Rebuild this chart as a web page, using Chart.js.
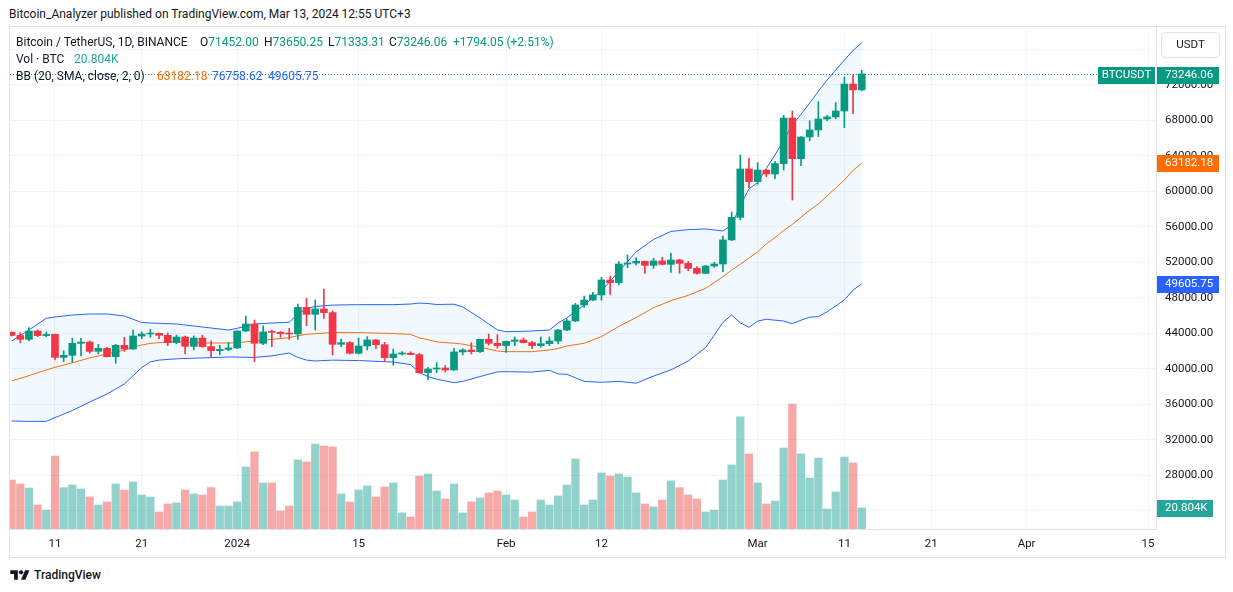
<!DOCTYPE html>
<html>
<head>
<meta charset="utf-8">
<script src="https://cdn.jsdelivr.net/npm/chart.js@4.4.0/dist/chart.umd.min.js"></script>
<style>
  body { margin:0; width:1233px; height:592px; background:#fff; position:relative; overflow:hidden;
         font-family: Roboto, "Noto Sans", sans-serif; color:#131722; }
  #pub { position:absolute; left:9px; top:7px; font-size:12px; line-height:14px; white-space:nowrap; }
  #frame { position:absolute; left:9px; top:26px; width:1215px; height:530px; border:1px solid #e0e3eb; }
  #c { position:absolute; left:0; top:0; }
  .lg { position:absolute; font-size:12px; line-height:14px; white-space:nowrap; }
  .up { color:#089981; }
  .vol { color:#26a69a; }
  .org { color:#ff6d00; }
  .blu { color:#2962ff; }
  #logo { position:absolute; left:10px; top:568px; display:flex; align-items:center; gap:4px;
          font-size:12px; font-weight:500; }
</style>
</head>
<body>
<div id="pub">Bitcoin_Analyzer published on TradingView.com, Mar 13, 2024 12:55 UTC+3</div>
<div id="frame">
  <canvas id="c" width="1215" height="530"></canvas>
  <div class="lg" style="left:6px;top:8px">Bitcoin / TetherUS, 1D, BINANCE</div>
  <div class="lg" style="left:190px;top:8px">O<span class="up">71452.00</span></div>
  <div class="lg" style="left:254px;top:8px">H<span class="up">73650.25</span></div>
  <div class="lg" style="left:318px;top:8px">L<span class="up">71333.31</span></div>
  <div class="lg" style="left:379px;top:8px">C<span class="up">73246.06</span></div>
  <div class="lg up" style="left:443px;top:8px">+1794.05 (+2.51%)</div>
  <div class="lg" style="left:6px;top:25px">Vol · BTC</div>
  <div class="lg vol" style="left:64px;top:25px">20.804K</div>
  <div class="lg" style="left:6px;top:42px">BB (20, SMA, close, 2, 0)</div>
  <div class="lg org" style="left:147px;top:42px">63182.18</div>
  <div class="lg blu" style="left:202px;top:42px">76758.62</div>
  <div class="lg blu" style="left:258px;top:42px">49605.75</div>
</div>
<div id="logo">
  <svg width="20" height="14" viewBox="0 0 36 26"><path d="M14 22H7V11H0V4h14v18zM28 22h-8l7.5-18h8z" fill="#131722"/><circle cx="20" cy="8" r="4" fill="#131722"/></svg>
  <span>TradingView</span>
</div>
<script>
// daily candles, Dec 6 2023 (day 0) .. Mar 13 2024 (day 98)
const opens = [44130, 43780, 43340, 44280, 43760, 43900, 41310, 41540, 42890, 43040,
  41990, 42330, 41390, 42670, 42250, 43720, 43940, 44020, 43790, 42970,
  43600, 42550, 43490, 42520, 42070, 42200, 42370, 44280, 45070, 42890,
  44170, 44140, 43980, 43940, 46950, 46160, 46760, 46350, 42780, 42970,
  41770, 42590, 43270, 42740, 41280, 41690, 41770, 41620, 39590, 40000,
  40110, 39890, 41920, 42140, 41950, 43340, 42890, 42630, 43120, 43270,
  42970, 42630, 42850, 43150, 44390, 45410, 47210, 47770, 48340, 50030,
  49730, 51830, 51940, 52130, 51680, 52170, 51790, 52280, 51900, 51340,
  50780, 51600, 51830, 54540, 57090, 62540, 61110, 62420, 61970, 63140,
  68280, 63700, 66140, 66930, 68170, 68400, 69070, 72110, 71452];
const highs = [44200, 44090, 44660, 44390, 44170, 43920, 42070, 43460, 43460, 43160,
  42780, 42440, 42780, 43570, 44390, 44170, 44470, 44060, 44060, 43830,
  43720, 43720, 43830, 43160, 42670, 42970, 44300, 45970, 45520, 44850,
  44390, 44210, 44580, 47320, 47960, 47770, 49010, 46540, 43380, 43080,
  43490, 43640, 43300, 43000, 42250, 41950, 41950, 41770, 40190, 40710,
  40380, 42330, 42290, 42970, 43380, 43940, 43870, 43150, 43610, 43490,
  43120, 43610, 43610, 44470, 45630, 47400, 48220, 48640, 50330, 50480,
  52090, 52840, 52540, 52170, 52470, 52580, 53030, 52360, 52130, 51530,
  51680, 52020, 54990, 57690, 64110, 63740, 63250, 62470, 63360, 68580,
  69070, 66200, 67980, 70120, 68580, 70010, 72900, 73170, 73650.25];
const lows = [43700, 42970, 43160, 43640, 43640, 41010, 40830, 40750, 41460, 41770,
  41690, 41350, 40640, 41990, 42200, 43420, 43570, 43420, 42630, 42850,
  41690, 42140, 42440, 41390, 41620, 42070, 42290, 44200, 40830, 42740,
  42520, 43570, 43340, 43340, 44880, 44390, 45710, 41580, 42520, 41690,
  41690, 42140, 42290, 40830, 40410, 41580, 41600, 39510, 38760, 39590,
  39660, 39850, 41580, 41690, 41880, 42700, 42330, 41880, 42630, 42930,
  42290, 42440, 42630, 42820, 44320, 45330, 46950, 47700, 47770, 48410,
  49460, 51420, 51720, 50780, 51340, 51750, 50890, 50780, 51080, 50670,
  50750, 51450, 50970, 54460, 56790, 60430, 60810, 61670, 61450, 62420,
  59040, 62910, 65690, 66180, 67980, 68210, 67190, 68770, 71333.31];
const closes = [43780, 43340, 44280, 43760, 43900, 41310, 41540, 42890, 43040, 41990,
  42330, 41390, 42670, 42250, 43720, 43940, 44020, 43790, 42970, 43600,
  42550, 43490, 42520, 42070, 42200, 42370, 44280, 45070, 42890, 44170,
  44140, 43980, 43940, 46950, 46160, 46760, 46350, 42780, 42970, 41770,
  42590, 43270, 42740, 41280, 41690, 41770, 41620, 39590, 40000, 40110,
  39890, 41920, 42140, 41950, 43340, 42890, 42630, 43120, 43270, 42970,
  42630, 42850, 43150, 44390, 45410, 47210, 47770, 48340, 50030, 49730,
  51830, 51940, 52130, 51680, 52170, 51790, 52280, 51900, 51340, 50780,
  51600, 51830, 54540, 57090, 62540, 61110, 62420, 61970, 63140, 68280,
  63700, 66140, 66930, 68170, 68400, 69070, 72110, 71452.01, 73246.06];
// volume in thousands of BTC
const volumes = [48.5, 44.6, 40.6, 23.8, 18.8, 72.3, 41.0, 43.6, 39.6, 31.7,
  23.8, 26.8, 44.6, 38.6, 46.6, 33.7, 31.7, 16.8, 24.8, 25.8,
  38.6, 34.7, 33.7, 41.0, 22.8, 22.8, 26.8, 61.4, 76.3, 45.6,
  45.6, 17.8, 22.8, 68.4, 66.4, 84.2, 82.2, 81.2, 34.7, 26.8,
  38.6, 42.6, 31.7, 41.6, 45.6, 15.9, 11.9, 52.5, 54.5, 37.6,
  29.7, 44.6, 15.9, 26.8, 30.7, 35.7, 37.6, 33.7, 28.7, 11.9,
  16.8, 28.7, 23.8, 32.7, 43.6, 69.3, 23.8, 28.7, 55.5, 52.5,
  54.5, 51.5, 35.7, 24.8, 21.8, 28.7, 47.6, 41.0, 33.7, 29.7,
  16.8, 18.8, 48.5, 63.4, 111.0, 74.3, 45.6, 24.8, 27.7, 80.2,
  123.8, 74.3, 50.5, 70.3, 19.8, 36.7, 71.3, 65.4, 20.804];

// Bollinger bands at these days
const bbDays = [0, 2, 4, 5, 7, 9, 11, 13, 15, 16, 17, 19, 22, 25, 26, 28, 30, 32, 33, 34,
  35, 37, 40, 44, 46, 47, 48, 49, 51, 52, 54, 56, 57, 60, 62, 63, 64, 66, 68, 70,
  72, 74, 76, 78, 80, 82, 83, 84, 85, 86, 87, 88, 89, 90, 91, 92, 93, 94, 95, 96, 97, 98];
const bbUpper = [43150, 44400, 45710, 45860, 46080, 46200, 46200, 45970, 45240, 45180,
  45150, 45070, 44730, 44390, 44580, 45070, 45180, 45260, 46200, 46800,
  47050, 47200, 47250, 47250, 47320, 47430, 47380, 47270, 47300, 47000,
  45750, 44390, 44200, 44280, 44390, 45180, 45750, 47200, 48800, 51000,
  53200, 54600, 55500, 55700, 55780, 55550, 56220, 58400, 60300, 61000,
  62600, 64100, 65800, 67500, 68700, 69970, 71300, 72560, 73700, 74820, 75900, 76758.62];
const bbBasis = [38650, 39250, 39890, 40190, 40700, 41240, 41690, 42140, 42700, 42890,
  42970, 43080, 42930, 42930, 42960, 43150, 43340, 43530, 43750, 43900,
  43980, 44100, 44100, 44000, 43900, 43500, 43300, 43050, 42900, 42800,
  42450, 42030, 41950, 41950, 42140, 42310, 42590, 42900, 43650, 44800,
  45800, 46900, 47700, 48300, 49090, 50400, 51150, 51800, 52500, 53200,
  54100, 54800, 55600, 56300, 57100, 57900, 58600, 59500, 60400, 61300, 62390, 63182.18];
const bbLower = [34140, 34100, 34100, 34520, 35320, 36280, 37180, 38310, 40160, 40800,
  41000, 41150, 41250, 41350, 41340, 41300, 41480, 41800, 41300, 41000,
  40900, 41000, 40950, 40780, 40500, 39590, 39150, 38850, 38450, 38600,
  39150, 39670, 39700, 39650, 39850, 39440, 39400, 38600, 38500, 38600,
  38400, 39200, 39900, 40900, 42400, 45250, 46080, 45200, 44700, 45400,
  45600, 45500, 45400, 45100, 45500, 45830, 45900, 46440, 47100, 47780, 48880, 49605.75];

const tickDays = [5, 15, 26, 40, 57, 68, 86, 96, 106, 117, 131];
const tickLabels = ['11', '21', '2024', '15', 'Feb', '12', 'Mar', '11', '21', 'Apr', '15'];
const priceTicks = [24000, 28000, 32000, 36000, 40000, 44000, 48000, 52000, 56000, 60000,
  64000, 68000, 72000, 76000];

const UP = '#089981', DOWN = '#f23645';
const VOL_UP = 'rgba(38,166,154,0.5)', VOL_DOWN = 'rgba(239,83,80,0.5)';
const isUp = closes.map((c, i) => c >= opens[i]);

Chart.defaults.font.family = 'Roboto, "Noto Sans", sans-serif';
Chart.defaults.font.size = 11.5;
Chart.defaults.color = '#131722';

function tag(ctx, x, y, w, text, bg, center) {
    ctx.fillStyle = bg;
    ctx.fillRect(x, Math.round(y) - 8, w, 17);
    ctx.fillStyle = '#fff';
    ctx.textBaseline = 'middle';
    ctx.textAlign = center ? 'center' : 'left';
    ctx.fillText(text, center ? x + w / 2 : x + 8, Math.round(y) + 0.5);
}

// keep the plot area flush with the canvas edges
function noPad(s) {
    s.paddingTop = 0;
    s.paddingBottom = 0;
    s.paddingLeft = 0;
    s.paddingRight = 0;
}

const overlay = {
    id: 'overlay',
    afterDraw(chart) {
        const { ctx, chartArea, scales } = chart;
        const n = closes.length - 1;
        const py = Math.round(scales.y.getPixelForValue(closes[n])) + 0.5;
        ctx.save();
        ctx.font = '11.5px Roboto, "Noto Sans", sans-serif';
        // dotted last-price line
        ctx.strokeStyle = UP;
        ctx.lineWidth = 1;
        ctx.setLineDash([1, 2]);
        ctx.beginPath();
        ctx.moveTo(chartArea.left, py);
        ctx.lineTo(1088, py);
        ctx.stroke();
        ctx.setLineDash([]);
        tag(ctx, 1088, py, 57, 'BTCUSDT', UP, true);
        tag(ctx, chartArea.right + 1, py, 62, closes[n].toFixed(2), UP);
        const m = bbBasis.length - 1;
        tag(ctx, chartArea.right + 1, scales.y.getPixelForValue(bbBasis[m]), 62, bbBasis[m].toFixed(2), '#ff6d00');
        tag(ctx, chartArea.right + 1, scales.y.getPixelForValue(bbLower[m]), 62, bbLower[m].toFixed(2), '#2962ff');
        tag(ctx, chartArea.right + 1, scales.v.getPixelForValue(volumes[n]), 56, volumes[n].toFixed(3) + 'K', '#26a69a');
        // currency button
        ctx.fillStyle = '#fff';
        ctx.strokeStyle = '#e0e3eb';
        ctx.beginPath();
        ctx.roundRect(1151.5, 5.5, 58, 25, 4);
        ctx.fill();
        ctx.stroke();
        ctx.fillStyle = '#131722';
        ctx.textAlign = 'center';
        ctx.textBaseline = 'middle';
        ctx.fillText('USDT', 1180.5, 18.5);
        ctx.restore();
    }
};

const bandLine = (vals, color, extra) => Object.assign({
    type: 'line',
    data: bbDays.map((d, i) => ({ x: d, y: vals[i] })),
    borderColor: color,
    borderWidth: 1,
    pointRadius: 0,
    tension: 0,
    fill: false,
    yAxisID: 'y'
}, extra);

new Chart(document.getElementById('c'), {
    type: 'bar',
    data: {
        datasets: [
            {
                label: 'bodies',
                data: opens.map((o, i) => ({ x: i, y: [o, closes[i]] })),
                backgroundColor: isUp.map(u => u ? UP : DOWN),
                barThickness: 7,
                minBarLength: 1,
                grouped: false,
                yAxisID: 'y',
                order: 0
            },
            {
                label: 'wicks',
                data: lows.map((l, i) => ({ x: i, y: [l, highs[i]] })),
                backgroundColor: isUp.map(u => u ? UP : DOWN),
                barThickness: 1,
                grouped: false,
                yAxisID: 'y',
                order: 1
            },
            bandLine(bbUpper, '#2962ff', { order: 2, fill: '+2', backgroundColor: 'rgba(33,150,243,0.06)' }),
            bandLine(bbBasis, '#ff6d00', { order: 3 }),
            bandLine(bbLower, '#2962ff', { order: 4 }),
            {
                label: 'volume',
                data: volumes.map((v, i) => ({ x: i, y: v })),
                backgroundColor: isUp.map(u => u ? VOL_UP : VOL_DOWN),
                barThickness: 7.6,
                grouped: false,
                yAxisID: 'v',
                order: 5
            }
        ]
    },
    options: {
        responsive: false,
        animation: false,
        layout: { padding: 0, autoPadding: false },
        plugins: { legend: { display: false }, tooltip: { enabled: false } },
        scales: {
            x: {
                type: 'linear',
                min: -0.184,
                max: 131.92,
                offset: false,
                grid: { color: '#f0f3fa', drawTicks: false, offset: false },
                border: { color: '#e0e3eb' },
                afterBuildTicks: s => { s.ticks = tickDays.map(v => ({ value: v })); },
                afterFit: s => { s.height = 28; noPad(s); },
                ticks: {
                    autoSkip: false,
                    maxRotation: 0,
                    padding: 8,
                    callback: (v, i) => tickLabels[i]
                }
            },
            y: {
                position: 'right',
                min: 21970,
                max: 78535,
                grid: { color: '#f0f3fa', drawTicks: false },
                border: { color: '#e0e3eb' },
                afterBuildTicks: s => { s.ticks = priceTicks.map(v => ({ value: v })); },
                afterFit: s => { s.width = 69; noPad(s); },
                ticks: {
                    padding: 9,
                    callback: v => v.toFixed(2)
                }
            },
            v: {
                display: false,
                min: 0,
                max: 497.3
            }
        }
    },
    plugins: [overlay]
});
</script>
</body>
</html>
